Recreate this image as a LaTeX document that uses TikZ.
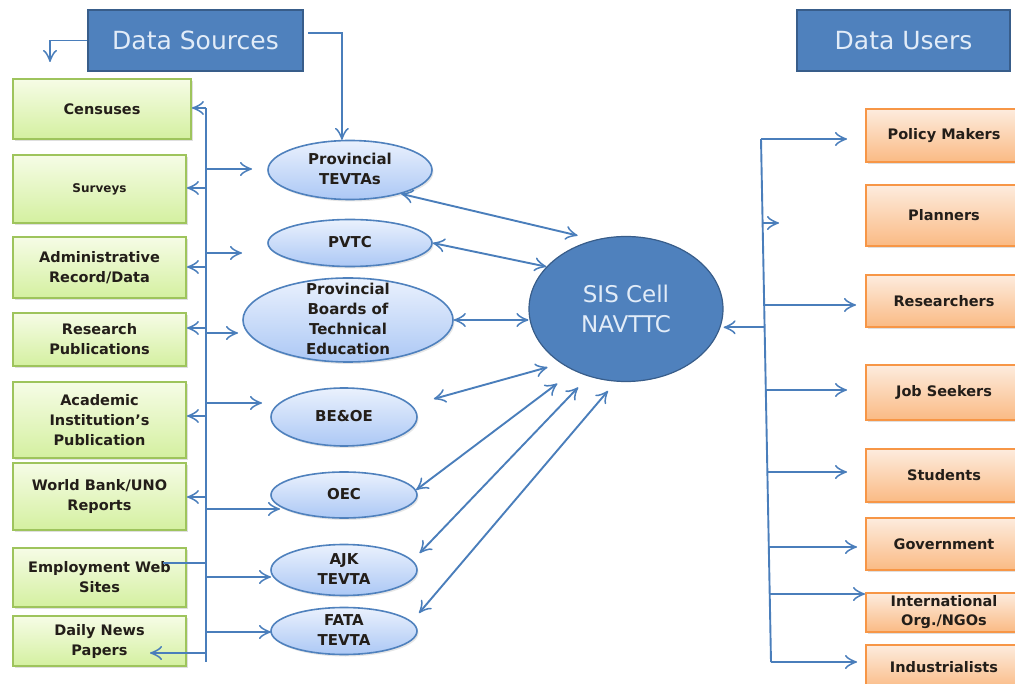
\documentclass[tikz,border=0pt]{standalone}
\usepackage{fontspec}
\setmainfont{DejaVu Sans}
\usepackage{tikz}
\usetikzlibrary{arrows.meta,calc,shadows,shapes.geometric}
\definecolor{hdrblue}{RGB}{79,129,189}
\definecolor{hdredge}{RGB}{56,93,138}
\definecolor{hdrtext}{RGB}{226,236,248}
\definecolor{wire}{RGB}{74,126,187}
\definecolor{srcedge}{RGB}{158,196,92}
\definecolor{srctop}{RGB}{246,252,230}
\definecolor{srcbot}{RGB}{212,240,160}
\definecolor{insttop}{RGB}{234,241,253}
\definecolor{instbot}{RGB}{172,200,245}
\definecolor{usrtop}{RGB}{253,236,222}
\definecolor{usrbot}{RGB}{250,186,132}
\definecolor{usredge}{RGB}{247,150,70}
\definecolor{ink}{RGB}{35,30,25}
\newcommand{\midtext}[1]{\raisebox{-.25em}[0pt][0pt]{\begin{tabular}{@{}c@{}}#1\end{tabular}}}

\begin{document}
\begin{tikzpicture}[x=1pt, y=-1pt,
    arr/.style={wire, line width=1.9pt, -{Classical TikZ Rightarrow[length=12pt,width=14pt]}},
    link/.style={arr, {Classical TikZ Rightarrow[length=12pt,width=14pt]}-{Classical TikZ Rightarrow[length=12pt,width=14pt]}},
    wireline/.style={wire, line width=1.9pt},
    hdr/.style={rectangle, fill=hdrblue, draw=hdredge, line width=1.2pt, inner sep=0pt,
      text=hdrtext, font=\fontsize{25}{30}\selectfont},
    src/.style={rectangle, draw=srcedge, line width=1.8pt, top color=srctop, bottom color=srcbot,
      inner sep=0pt, align=center, text=ink, font=\fontsize{14.5}{20}\selectfont\bfseries,
      drop shadow={shadow xshift=1.5pt, shadow yshift=-2pt, opacity=.25}},
    inst/.style={ellipse, draw=hdrblue, line width=1.6pt, top color=insttop, bottom color=instbot,
      inner sep=0pt, text=ink, font=\fontsize{15}{20}\selectfont\bfseries,
      drop shadow={shadow xshift=1.5pt, shadow yshift=-2pt, opacity=.2}},
    usr/.style={rectangle, draw=usredge, line width=1.8pt, top color=usrtop, bottom color=usrbot,
      inner sep=0pt, align=center, minimum width=156pt, text=ink,
      font=\fontsize{14.5}{19}\selectfont\bfseries,
      drop shadow={shadow xshift=1.5pt, shadow yshift=-2pt, opacity=.25}},
    sis/.style={ellipse, fill=hdrblue, draw=hdredge, line width=1.2pt, inner sep=0pt, align=center,
      minimum width=194pt, minimum height=145pt, text=hdrtext, font=\fontsize{23}{30}\selectfont}]
  \useasboundingbox (0,0) rectangle (1015,684);

  \node[hdr, minimum width=215pt, minimum height=61pt] (dsrc) at (195.5,40.5) {Data Sources};
  \node[hdr, minimum width=213pt, minimum height=61pt] (dusr) at (903.5,40.5) {Data Users};

  \foreach \nm/\cx/\cy/\w/\h/\txt in {
      cen/102/109/178/60/{Censuses},
      sur/99.5/189/173/68/{\fontsize{12}{14}\selectfont Surveys},
      adm/99.5/267.5/173/61/{Administrative\\Record/Data},
      res/99.5/339.5/173/53/{Research\\Publications},
      aca/99.5/420/173/76/{Academic\\Institution’s\\Publication},
      wbk/99.5/496.5/173/67/{World Bank/UNO\\Reports},
      emp/99.5/577.5/173/59/{Employment Web\\Sites},
      dnp/99.5/641/173/50/{Daily News\\Papers}}
    \node[src, minimum width=\w pt, minimum height=\h pt] (\nm) at (\cx,\cy) {\txt};

  \foreach \nm/\cx/\cy/\w/\h/\txt in {
      ptv/350/170/164/59/{Provincial\\TEVTAs},
      pvt/350/243/164/47/{PVTC},
      pbt/348/320/210/84/{Provincial\\Boards of\\Technical\\Education},
      beo/344/417/146/58/{BE\&OE},
      oec/344/495/146/46/{OEC},
      ajk/344/570/146/51/{AJK\\TEVTA},
      fat/344/631/146/47/{FATA\\TEVTA}}
    \node[inst, minimum width=\w pt, minimum height=\h pt] (\nm) at (\cx,\cy) {\midtext{\txt}};

  \node[sis] (sis) at (626,309) {SIS Cell\\NAVTTC};

  \foreach \nm/\cy/\h/\txt in {
      pol/135.5/53/{Policy Makers},
      pla/215.5/61/{Planners},
      rsr/301/52/{Researchers},
      job/392.5/55/{Job Seekers},
      stu/475.5/53/{Students},
      gov/544/52/{Government},
      int/612.5/39/{International\\Org./NGOs},
      ind/667.5/45/{Industrialists}}
    \node[usr, minimum height=\h pt] (\nm) at (944,\cy) {\txt};

  % headers
  \coordinate (dsL) at (50,62);
  \coordinate (dsR) at (308,33);
  \draw[arr] (dsrc.west) -| (dsL);
  \draw[arr] (dsR) -| (ptv.105);

  % sources bus
  \coordinate (lbT) at (206,108);
  \coordinate (lbB) at (206,662);
  \draw[wireline] (lbT) -- (lbB);
  \foreach \nm/\y in {cen/108, sur/188, adm/267, res/328, aca/416, wbk/497}
    \draw[arr] (lbT |- 0,\y) -- (\nm.east |- 0,\y);
  \coordinate (emp-in) at (163,563);
  \coordinate (dnp-in) at (150,653);
  \draw[wireline] (lbT |- emp-in) -- (emp-in);
  \draw[arr] (lbT |- dnp-in) -- (dnp-in);
  \foreach \nm/\x/\y in {ptv/252/169, pvt/242/253, pbt/238/333, beo/262/403,
      oec/280/509, ajk/271/577, fat/271/632} {
    \coordinate (\nm-in) at (\x,\y);
    \draw[arr] (lbT |- \nm-in) -- (\nm-in);
  }

  % links to the cell
  \draw[link, shorten >=18pt] (ptv.-25) -- (sis.114);
  \draw[link] (pvt.east) -- (sis.152);
  \draw[link] (pbt.east) -- (pbt.east -| sis.west);
  \draw[link, shorten <=23pt, shorten >=14pt] (beo.10) -- (sis.220);
  \draw[link, shorten >=21pt] (oec.4) -- (sis.230);
  \draw[link, shorten <=10pt, shorten >=15pt] (ajk.8) -- (sis.241);
  \draw[link, shorten <=11pt, shorten >=12pt] (fat.8) -- (sis.262);

  % users bus
  \coordinate (rbT) at (761,139);
  \coordinate (rbB) at (771,662);
  \draw[wireline] (rbT) -- (rbB);
  \coordinate (sisIn) at ($(rbT)!0.36!(rbB)$);
  \draw[arr] (sisIn) -- (sisIn -| sis.east);
  \foreach \nm/\x/\y in {pol/847/139, pla/779/223, rsr/856/305, job/847/390,
      stu/847/472, gov/857/547, int/865/594, ind/857/662} {
    \coordinate (\nm-in) at (\x,\y);
    \draw[arr] ($(rbT)!{(\y-139)/523}!(rbB)$) -- (\nm-in);
  }
\end{tikzpicture}
\end{document}
